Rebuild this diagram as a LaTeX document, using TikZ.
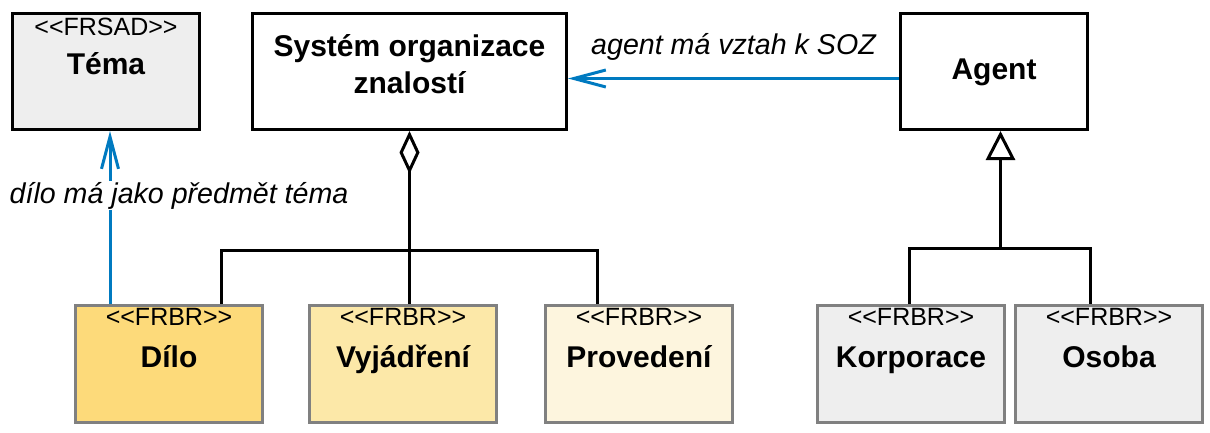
\documentclass[tikz,border=0pt]{standalone}
\usepackage{fontspec}
\setmainfont{Liberation Sans}
\usetikzlibrary{arrows.meta,calc}
\definecolor{boxgray}{RGB}{128,128,128}
\definecolor{lightgray}{RGB}{238,238,238}
\definecolor{dilofill}{RGB}{253,218,122}
\definecolor{vyjfill}{RGB}{252,232,168}
\definecolor{provfill}{RGB}{253,245,222}
\definecolor{assocblue}{RGB}{0,122,192}
\newcommand{\stereotype}[1]{<\kern0pt<#1>\kern0pt>}

\begin{document}
\begin{tikzpicture}[x=1pt,y=-1pt,
	box/.style={draw=black,line width=3pt,anchor=north west,minimum width=187pt,minimum height=116pt,inner sep=0pt},
	frbrbox/.style={box,draw=boxgray,minimum height=117pt},
	stereo/.style={anchor=base,font=\fontsize{25}{30}\selectfont},
	cname/.style={anchor=base,font=\fontsize{30}{37}\selectfont\bfseries},
	rel/.style={line width=3pt},
	assoc/.style={rel,draw=assocblue,-{Straight Barb[length=32pt,width=17pt]}},
	reltext/.style={font=\fontsize{28.6}{34}\selectfont\itshape}]
			\useasboundingbox (0,0) rectangle (1210,432);
			% upper row
			\node[box,fill=lightgray] (tema) at (11,12) {};
			\node[box,minimum width=314pt] (soz) at (251,12) {};
			\node[box] (agent) at (899,12) {};
			% lower row
			\node[frbrbox,fill=dilofill] (dilo) at (74,304) {};
			\node[frbrbox,fill=vyjfill] (vyjadreni) at (308,304) {};
			\node[frbrbox,fill=provfill] (provedeni) at (544,304) {};
			\node[frbrbox,fill=lightgray] (korporace) at (816,304) {};
			\node[frbrbox,fill=lightgray] (osoba) at (1014,304) {};
			% texts in the boxes
			\node[stereo] (tema-st) at ([yshift=-23pt]tema.north) {\stereotype{FRSAD}};
			\node[cname] (tema-nm) at ([yshift=-62pt]tema.north) {Téma};
			\node[cname,anchor=center,align=center] (soz-nm) at ([yshift=7.5pt]soz.center) {Systém organizace\\znalostí};
			\node[cname] (agent-nm) at ([yshift=-67pt]agent.north) {Agent};
			\foreach \b/\t in {dilo/Dílo,vyjadreni/Vyjádření,provedeni/Provedení,korporace/Korporace,osoba/Osoba}{
				\node[stereo] (\b-st) at ([yshift=-21pt]\b.north) {\stereotype{FRBR}};
				\node[cname] (\b-nm) at ([yshift=-63pt]\b.north) {\t};
			}
			% aggregation
			\coordinate (aggbar) at ($(soz.south)+(0,119)$);
			\draw[rel,{Diamond[open,length=43pt,width=20pt]}-] (soz.south) -- (aggbar);
			\draw[rel] ([xshift=52pt]dilo.north) |- (aggbar) -| ([xshift=-41.5pt]provedeni.north);
			\draw[rel] (aggbar) -- (aggbar |- vyjadreni.north);
			% generalization
			\coordinate (genbar) at ($(agent.south)+(6.5,117)$);
			\draw[rel,{Triangle[open,length=29pt,width=29pt]}-] ([xshift=6.5pt]agent.south) -- (genbar);
			\draw[rel] ([xshift=-1.5pt]korporace.north) |- (genbar) -| ([xshift=-19pt]osoba.north);
			% associations
			\draw[assoc] ([xshift=-59pt]dilo.north) coordinate (dtop) -- (dtop |- tema.south);
			\node[reltext,fill=white,inner sep=1pt,anchor=base] (lbltema) at (179,203) {dílo má jako předmět téma};
			\draw[assoc] ([yshift=-7pt]agent.west) -- ([yshift=-7pt]soz.east)
				node[reltext,midway,anchor=base,yshift=24pt] (lblagent) {agent má vztah k SOZ};
		\end{tikzpicture}
\end{document}
